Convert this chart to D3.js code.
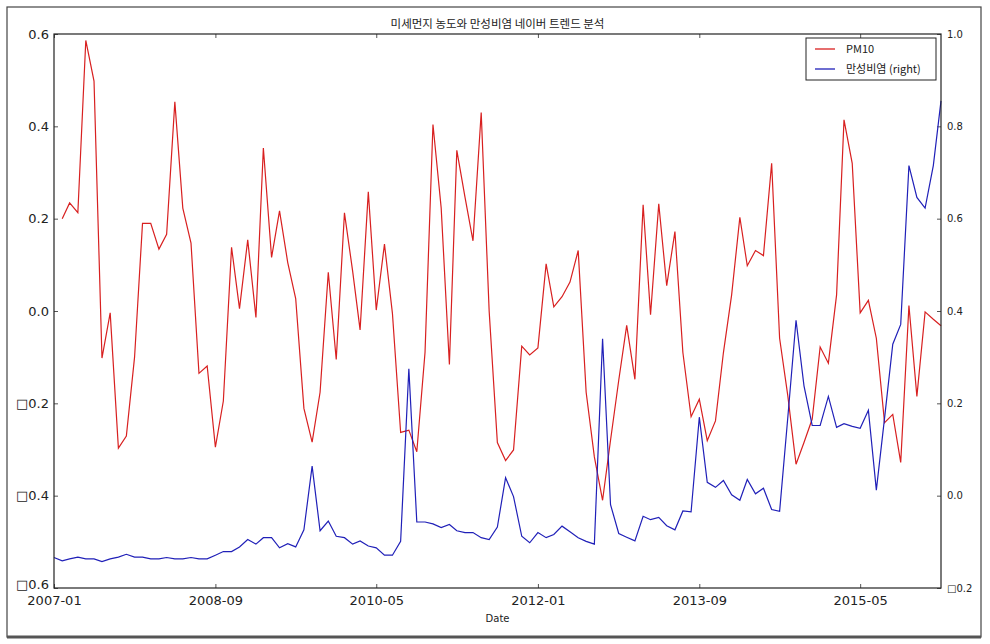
<!DOCTYPE html>
<html>
<head>
<meta charset="utf-8">
<script src="https://cdn.jsdelivr.net/npm/d3@7"></script>
<style>
  body { margin: 0; background: #fff; }
  svg text { font-family: "DejaVu Sans", sans-serif; fill: #222; }
  .kr { font-family: "Noto Sans CJK KR", "DejaVu Sans", sans-serif; }
</style>
</head>
<body>
<svg width="990" height="644"></svg>
<script>
// monthly series, 2007-01 .. 2016-03 (PM10 has no value for the first month)
var months = d3.timeMonth.range(new Date(2007, 0, 1), new Date(2016, 3, 1));

var pm10 = [null, 0.20, 0.234, 0.213, 0.586, 0.498, -0.102, -0.004, -0.297, -0.271,
  -0.10, 0.19, 0.19, 0.134, 0.166, 0.453, 0.223, 0.147, -0.135, -0.119,
  -0.295, -0.195, 0.138, 0.005, 0.154, -0.014, 0.353, 0.116, 0.217, 0.105,
  0.027, -0.211, -0.284, -0.176, 0.084, -0.105, 0.2125, 0.086, -0.041, 0.258,
  0.002, 0.145, -0.005, -0.263, -0.258, -0.305, -0.09, 0.404, 0.223, -0.116,
  0.348, 0.246, 0.152, 0.43, 0.0, -0.285, -0.324, -0.301, -0.076, -0.095,
  -0.080, 0.102, 0.009, 0.031, 0.0625, 0.131, -0.176, -0.316, -0.41, -0.28,
  -0.15, -0.031, -0.148, 0.230, -0.008, 0.232, 0.055, 0.172, -0.09, -0.229,
  -0.191, -0.281, -0.238, -0.09, 0.035, 0.203, 0.098, 0.131, 0.12, 0.32,
  -0.059, -0.184, -0.332, -0.285, -0.234, -0.078, -0.113, 0.035, 0.414, 0.32,
  -0.004, 0.023, -0.059, -0.242, -0.224, -0.328, 0.012, -0.185, -0.002, -0.018,
  -0.032];

var rhinitis = [-0.134, -0.141, -0.137, -0.133, -0.137, -0.137, -0.143, -0.137, -0.133, -0.127,
  -0.133, -0.133, -0.137, -0.137, -0.134, -0.137, -0.137, -0.134, -0.137, -0.137,
  -0.129, -0.121, -0.121, -0.111, -0.095, -0.105, -0.091, -0.091, -0.113, -0.104,
  -0.111, -0.074, 0.064, -0.076, -0.055, -0.088, -0.091, -0.105, -0.098, -0.109,
  -0.113, -0.129, -0.129, -0.099, 0.275, -0.057, -0.057, -0.061, -0.069, -0.0625,
  -0.076, -0.080, -0.080, -0.091, -0.095, -0.068, 0.039, -0.002, -0.088, -0.102,
  -0.080, -0.091, -0.084, -0.066, -0.078, -0.091, -0.099, -0.105, 0.340, -0.0195,
  -0.082, -0.090, -0.098, -0.0445, -0.052, -0.047, -0.065, -0.074, -0.033, -0.035,
  0.170, 0.029, 0.018, 0.033, 0.002, -0.010, 0.035, 0.004, 0.016, -0.030,
  -0.034, 0.17, 0.380, 0.238, 0.152, 0.152, 0.215, 0.148, 0.156, 0.150,
  0.146, 0.185, 0.012, 0.168, 0.328, 0.371, 0.715, 0.646, 0.623, 0.715,
  0.855];

var xTickDates = ["2007-01", "2008-09", "2010-05", "2012-01", "2013-09", "2015-05"];
var leftTicks = [0.6, 0.4, 0.2, 0.0, -0.2, -0.4, -0.6];
var rightTicks = [1.0, 0.8, 0.6, 0.4, 0.2, 0.0, -0.2];
var seriesNames = ["PM10", "만성비염 (right)"];
var seriesColors = ["#d82020", "#2020b8"];

var svg = d3.select("svg"),
    plotL = 54, plotR = 941, plotT = 34, plotB = 588;

// outer frame around the figure
svg.append("rect")
    .attr("x", 7).attr("y", 7).attr("width", 974).attr("height", 630)
    .attr("fill", "none").attr("stroke", "#444").attr("stroke-width", 1.2);
svg.append("line")
    .attr("x1", 7).attr("x2", 981).attr("y1", 637).attr("y2", 637)
    .attr("stroke", "#555").attr("stroke-width", 3);

var parseM = d3.timeParse("%Y-%m");
var x = d3.scaleTime()
    .domain([months[0], months[months.length - 1]])
    .range([plotL, plotR]);
var yL = d3.scaleLinear().domain([-0.6, 0.6]).range([plotB, plotT]);
var yR = d3.scaleLinear().domain([-0.2, 1.0]).range([plotB, plotT]);

var fmt = function(v) {
  var s = d3.format(".1f")(Math.abs(v));
  return v < 0 ? "\u25A1" + s : s;
};

// x axis bottom + mirrored top (ticks pointing inward)
var xTicks = xTickDates.map(parseM);
svg.append("g")
    .attr("transform", "translate(0," + plotB + ")")
    .call(d3.axisBottom(x).tickValues(xTicks).tickFormat(d3.timeFormat("%Y-%m"))
      .tickSizeInner(-4).tickSizeOuter(0).tickPadding(8))
    .call(function(g) {
      g.select(".domain").remove();
      g.selectAll("text").attr("font-size", 13).attr("font-family", "DejaVu Sans").attr("fill", "#222");
      g.selectAll("line").attr("stroke", "#555");
    });
svg.append("g")
    .attr("transform", "translate(0," + plotT + ")")
    .call(d3.axisTop(x).tickValues(xTicks).tickFormat("").tickSizeInner(-4).tickSizeOuter(0))
    .call(function(g) {
      g.select(".domain").remove();
      g.selectAll("line").attr("stroke", "#555");
    });

// left axis
svg.append("g")
    .attr("transform", "translate(" + plotL + ",0)")
    .call(d3.axisLeft(yL).tickValues(leftTicks).tickFormat(fmt)
      .tickSizeInner(-4).tickSizeOuter(0).tickPadding(5))
    .call(function(g) {
      g.select(".domain").remove();
      g.selectAll("text").attr("font-size", 13).attr("font-family", "DejaVu Sans").attr("fill", "#222");
      g.selectAll("line").attr("stroke", "#555");
      // bottom label sits just above the date labels
      g.selectAll(".tick").filter(function(d) { return d === -0.6; })
        .select("text").attr("dy", "0.05em");
    });

// right axis
svg.append("g")
    .attr("transform", "translate(" + plotR + ",0)")
    .call(d3.axisRight(yR).tickValues(rightTicks).tickFormat(fmt)
      .tickSizeInner(-4).tickSizeOuter(0).tickPadding(6))
    .call(function(g) {
      g.select(".domain").remove();
      g.selectAll("text").attr("font-size", 10).attr("font-family", "DejaVu Sans").attr("fill", "#333");
      g.selectAll("line").attr("stroke", "#555");
    });

// lines
var linePM = d3.line()
    .defined(function(d) { return d[1] != null; })
    .x(function(d) { return x(d[0]); })
    .y(function(d) { return yL(d[1]); });
var lineRh = d3.line()
    .x(function(d) { return x(d[0]); })
    .y(function(d) { return yR(d[1]); });

svg.append("path")
    .datum(months.map(function(m, i) { return [m, pm10[i]]; }))
    .attr("d", linePM)
    .attr("fill", "none").attr("stroke", seriesColors[0]).attr("stroke-width", 1.2);
svg.append("path")
    .datum(months.map(function(m, i) { return [m, rhinitis[i]]; }))
    .attr("d", lineRh)
    .attr("fill", "none").attr("stroke", seriesColors[1]).attr("stroke-width", 1.2);

// plot frame
svg.append("rect")
    .attr("x", plotL).attr("y", plotT).attr("width", plotR - plotL).attr("height", plotB - plotT)
    .attr("fill", "none").attr("stroke", "#222").attr("stroke-width", 1.2);

// title and x label
svg.append("text")
    .attr("class", "kr")
    .attr("x", (plotL + plotR) / 2).attr("y", 28)
    .attr("text-anchor", "middle").attr("font-size", 11.5)
    .text("미세먼지 농도와 만성비염 네이버 트렌드 분석");
svg.append("text")
    .attr("x", (plotL + plotR) / 2).attr("y", 622)
    .attr("text-anchor", "middle").attr("font-size", 10)
    .text("Date");

// legend
var lg = svg.append("g").attr("transform", "translate(806,38)");
lg.append("rect")
    .attr("width", 130).attr("height", 42)
    .attr("fill", "#fff").attr("stroke", "#222").attr("stroke-width", 1);
seriesNames.forEach(function(name, i) {
  var yy = 11 + i * 20;
  lg.append("line")
      .attr("x1", 9).attr("x2", 29).attr("y1", yy).attr("y2", yy)
      .attr("stroke", seriesColors[i]).attr("stroke-width", 1.3);
  lg.append("text")
      .attr("class", "kr")
      .attr("x", 40).attr("y", yy + 4)
      .attr("font-size", 11)
      .text(name);
});
</script>
</body>
</html>
